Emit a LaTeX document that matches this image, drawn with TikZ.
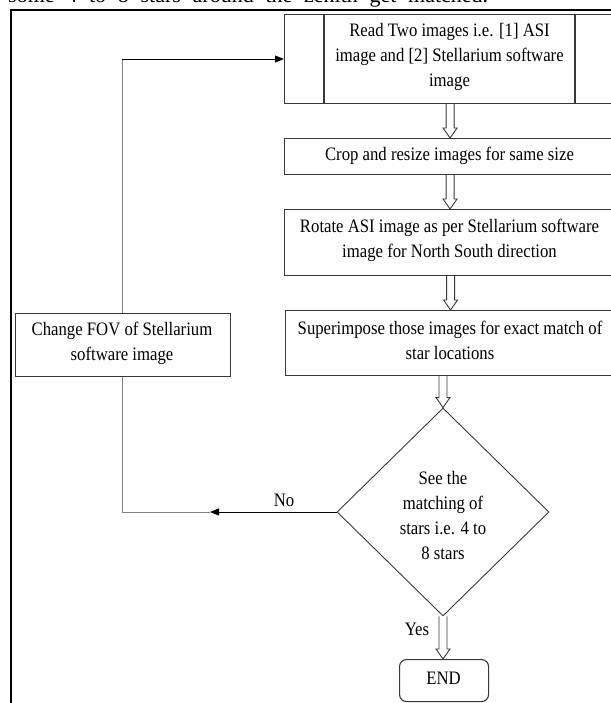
\documentclass[tikz,border=0pt]{standalone}
\usepackage{fontspec}
\setmainfont[FakeStretch=0.88]{Liberation Serif}
\newfontfamily\plainserif{Liberation Serif}
\usetikzlibrary{shapes.geometric,calc,arrows.meta}
\definecolor{boxline}{gray}{0.22}
\definecolor{linegray}{gray}{0.5}
\newcommand\hollowarrow[2]{%
  \path[draw=boxline, line width=0.9pt, fill=white] let \p1=(#1.south), \p2=(#2.north) in
   (\x2-4pt,\y1) -- (\x2-4pt,\y2+10pt) -- (\x2-7pt,\y2+10pt) -- (\x2,\y2) --
   (\x2+7pt,\y2+10pt) -- (\x2+4pt,\y2+10pt) -- (\x2+4pt,\y1);
}
\begin{document}
\begin{tikzpicture}[x=1pt,y=-1pt,
  box/.style={draw=boxline, line width=1.1pt, fill=white, anchor=north west, inner sep=0pt},
  txt/.style={align=center, font=\fontsize{19}{25}\selectfont, inner sep=0pt},
  flow/.style={draw=black, line width=1pt},
  back/.style={draw=linegray, line width=1pt}]
\useasboundingbox (0,0) rectangle (610,703);

% caption line at the very top (cut off by the page)
\node[anchor=base west, inner sep=0pt] (caption) at (8,3)
  {\plainserif\fontsize{22}{26}\selectfont\makebox[480pt][s]{some 4 to 8 stars around the zenith get matched.}};

% outer frame
\draw[line width=2pt] (11,720) -- (11,10) -- (620,10);

% decision diamond (placed first for anchors)
\node[diamond, draw=boxline, line width=0.9pt, fill=white, minimum width=212pt,
      minimum height=208pt, inner sep=0pt] (decide) at (443,512) {};
\node[txt] (decidetxt) at (443,515) {See the\\matching of\\stars i.e. 4 to\\8 stars};

% top process box
\node[box, minimum width=331pt, minimum height=89pt] (read) at (284,14) {};
\draw[boxline, line width=1.1pt] ([xshift=40pt]read.north west) -- ([xshift=40pt]read.south west);
\draw[boxline, line width=1.1pt] ([xshift=291pt]read.north west) -- ([xshift=291pt]read.south west);
\node[txt] (readtxt) at (449.5,57) {Read Two images i.e. [1] ASI\\image and [2] Stellarium software\\image};

\node[box, minimum width=331pt, minimum height=36pt] (crop) at (284,138) {};
\node[txt] (croptxt) at (449.5,156) {Crop and resize images for same size};

\node[box, minimum width=331pt, minimum height=66pt] (rotate) at (284,209) {};
\node[txt] (rotatetxt) at (449.5,240) {Rotate ASI image as per Stellarium software\\image for North South direction};

\node[box, minimum width=330pt, minimum height=65pt] (super) at (285,310) {};
\node[txt] (supertxt) at (450,340.5) {Superimpose those images for exact match of\\star locations};

% feedback loop
\coordinate (fbx) at (122,0);
\coordinate (noend) at (210,0);
\draw[flow, -{Triangle[length=9pt,width=7pt]}] (decide.west) -- (noend |- decide.west);
\draw[back] (noend |- decide.west) -- (fbx |- decide.west) -- (fbx |- read.west);
\draw[flow, -{Triangle[length=9pt,width=7pt]}] (fbx |- read.west) -- (read.west);
\node[txt] (nolabel) at (284,500) {No};

\node[box, minimum width=215pt, minimum height=63pt] (fov) at (15,313) {};
\node[txt] (fovtxt) at (122,343.5) {Change FOV of Stellarium\\software image};

% end terminal
\node[box, rounded corners=7pt, minimum width=89pt, minimum height=42pt] (endbox) at (399,659) {};
\node[txt] (endtxt) at (443.5,678) {END};
\node[txt] (yeslabel) at (417,629) {Yes};

% hollow arrows
\hollowarrow{read}{crop}
\hollowarrow{crop}{rotate}
\hollowarrow{rotate}{super}
\path[draw=boxline, line width=0.9pt, fill=white] let \p1=(super.south), \p2=(decide.north) in
   (\x2-4pt,\y1) -- (\x2-4pt,\y2+10pt) -- (\x2-7pt,\y2+10pt) -- (\x2,\y2) --
   (\x2+7pt,\y2+10pt) -- (\x2+4pt,\y2+10pt) -- (\x2+4pt,\y1);
\path[draw=boxline, line width=0.9pt, fill=white] let \p1=(decide.south), \p2=(endbox.north) in
   (\x1-4pt,\y1) -- (\x1-4pt,\y2+10pt) -- (\x1-7pt,\y2+10pt) -- (\x1,\y2) --
   (\x1+7pt,\y2+10pt) -- (\x1+4pt,\y2+10pt) -- (\x1+4pt,\y1);
\end{tikzpicture}
\end{document}
